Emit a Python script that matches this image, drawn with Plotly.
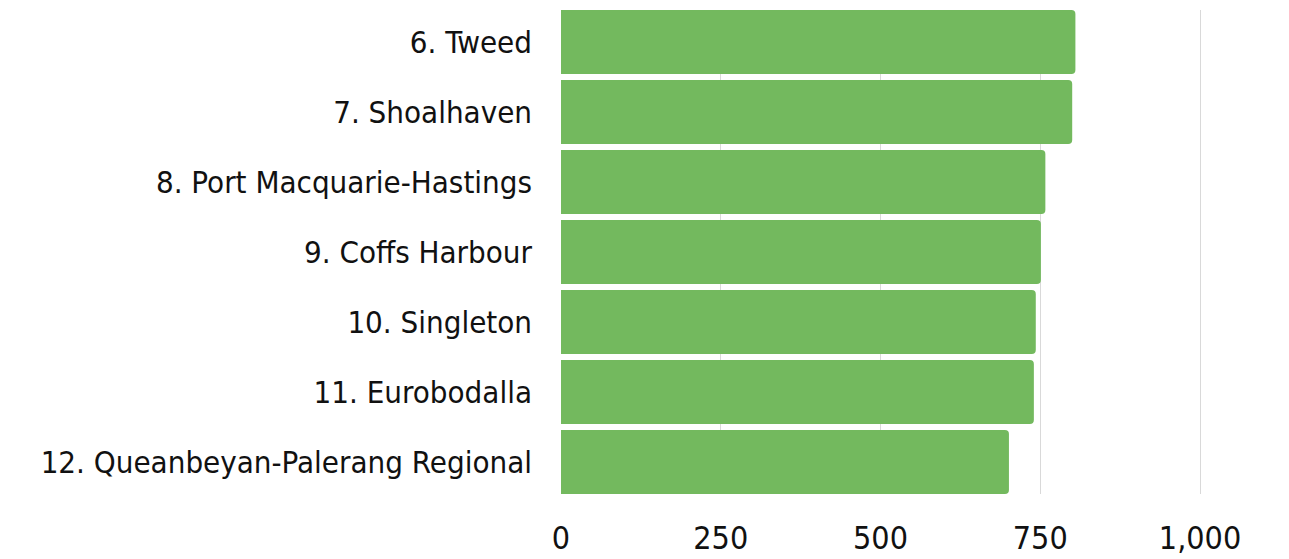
import plotly.graph_objects as go

categories = ["6. Tweed", "7. Shoalhaven", "8. Port Macquarie-Hastings", "9. Coffs Harbour",
              "10. Singleton", "11. Eurobodalla", "12. Queanbeyan-Palerang Regional"]
values = [805, 800, 758, 751, 743, 740, 701]
tick_vals = [0, 250, 500, 750, 1000]
tick_text = ["0", "250", "500", "750", "1,000"]

FONT = "DejaVu Sans Condensed, Liberation Sans Narrow, Roboto, sans-serif"

# the page body adds an 8px offset, so the figure is sized to the remaining view
W, H = 1281, 551
GAP = 0.086
n = len(categories)

fig = go.Figure(go.Bar(
    x=values, y=categories, orientation="h",
    marker=dict(color="#73B95E", line=dict(width=0)),
    hoverinfo="x+y",
))

fig.update_layout(
    width=W, height=H,
    margin=dict(l=553, r=9, t=2, b=65),
    paper_bgcolor="white", plot_bgcolor="white",
    bargap=GAP,
    barcornerradius=4,
    font=dict(family=FONT, size=31, color="#111111"),
    showlegend=False,
)
fig.update_yaxes(
    categoryorder="array", categoryarray=categories,
    range=[n - 0.5 - GAP / 2, -0.5 + GAP / 2],
    showgrid=False, zeroline=False, showline=False, ticks="",
    automargin=False,
    ticklabelstandoff=28,
    tickfont=dict(family=FONT, size=31, color="#111111"),
)
fig.update_xaxes(
    range=[0, 719 / 0.639], tickvals=tick_vals, ticktext=tick_text,
    showgrid=True, gridcolor="#d9d9d9", gridwidth=1,
    zeroline=False, showline=False, ticks="",
    automargin=False,
    ticklabelstandoff=22,
    tickfont=dict(family=FONT, size=32, color="#111111"),
)

fig.write_html("out.html")
